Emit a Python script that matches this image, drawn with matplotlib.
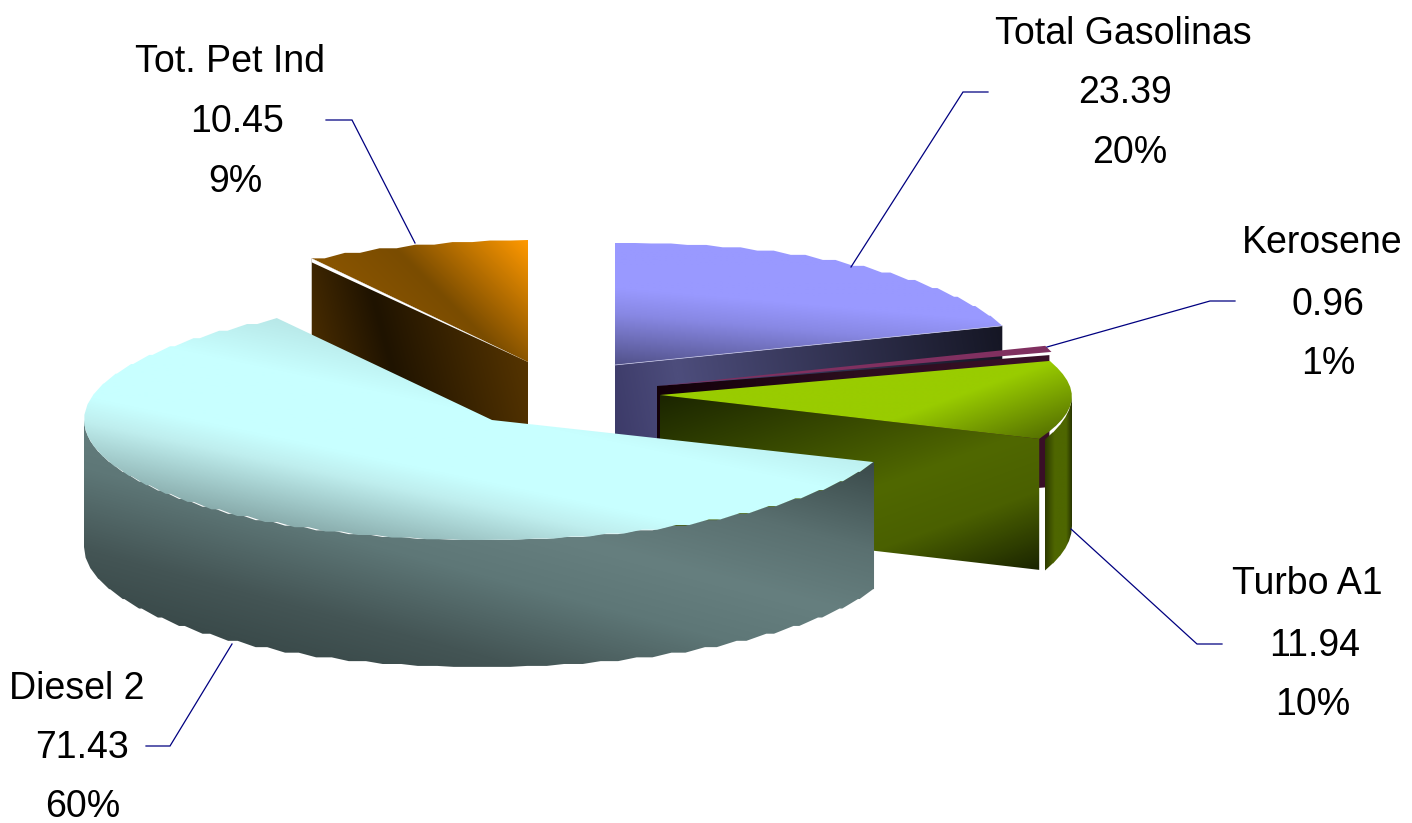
import numpy as np
import matplotlib
matplotlib.use("Agg")
import matplotlib.pyplot as plt
from matplotlib.colors import LinearSegmentedColormap
from matplotlib.patches import PathPatch, Polygon
from matplotlib.path import Path

categories = ["Total Gasolinas", "Kerosene", "Turbo A1", "Diesel 2", "Tot. Pet Ind"]
values = [23.39, 0.96, 11.94, 71.43, 10.45]
value_labels = ["23.39", "0.96", "11.94", "71.43", "10.45"]
percent_labels = ["20%", "1%", "10%", "60%", "9%"]

# angles clockwise from 12 o'clock, taken from the values
fractions = np.array(values) / sum(values)
ends = np.cumsum(fractions) * 360
starts = ends - fractions * 360

fig = plt.figure(figsize=(14.12, 8.23), dpi=100)
ax = fig.add_axes([0, 0, 1, 1])
ax.set_xlim(0, 1412)
ax.set_ylim(823, 0)
ax.axis("off")

FONT = ["Liberation Sans", "DejaVu Sans"]
NAVY = "#000080"


def rim(cx, cy, rx, ry, a0, a1, step=5.0, bulge=0):
    # stepped edge like the old 3D pie renderer, flat runs only where the rim is near level
    n = max(int(abs(a1 - a0) / step), 1)
    angs = np.linspace(a0, a1, n + 1)
    pts = []
    for i, a in enumerate(angs):
        t = np.radians(a)
        r = rx + bulge * np.sin(np.pi * i / n)
        pts.append((cx + r * np.sin(t), cy - ry * np.cos(t)))
        if i < n:
            hold = 0.55 * np.cos(t) ** 2
            t2 = np.radians(a + (a1 - a0) / n * hold)
            pts.append((cx + r * np.sin(t2), cy - ry * np.cos(t)))
    return pts


def grad_fill(poly, angle, stops, zorder=1):
    poly = np.array(poly)
    x0, y0 = poly.min(axis=0)
    x1, y1 = poly.max(axis=0)
    xs = np.arange(np.floor(x0) - 1, np.ceil(x1) + 2)
    ys = np.arange(np.floor(y0) - 1, np.ceil(y1) + 2)
    X, Y = np.meshgrid(xs, ys)
    a = np.radians(angle)
    P = X * np.cos(a) - Y * np.sin(a)
    pp = poly[:, 0] * np.cos(a) - poly[:, 1] * np.sin(a)
    T = np.clip((P - pp.min()) / (pp.max() - pp.min()), 0, 1)
    cmap = LinearSegmentedColormap.from_list("g", stops, N=256)
    im = ax.imshow(T, cmap=cmap, vmin=0, vmax=1, origin="upper", aspect="auto",
                   extent=(xs[0], xs[-1], ys[-1], ys[0]), zorder=zorder,
                   interpolation="bilinear")
    codes = [Path.MOVETO] + [Path.LINETO] * (len(poly) - 1) + [Path.CLOSEPOLY]
    path = Path(np.vstack([poly, poly[0]]), codes)
    im.set_clip_path(PathPatch(path, transform=ax.transData))


def shifted(pts, dy):
    return [(x, y + dy) for x, y in pts]


# --- Tot. Pet Ind (back left)
i = 4
cx, cy, rx, ry, depth = 528, 362, 410, 122, 128
top = rim(cx, cy, rx, ry, starts[i], 360)
wall = [(cx, cy), top[0], (top[0][0], top[0][1] + depth), (cx, cy + depth)]
grad_fill(wall, 15, [(0, "#4f3000"), (0.38, "#1f1300"), (1, "#553400")], 2)
grad_fill([(cx, cy)] + top, 45, [(0, "#8a5500"), (0.4, "#7a4c00"), (1, "#ff9900")], 3)
ax.add_patch(Polygon([(cx, cy), top[0], (top[0][0], top[0][1] + 4)], color="white", lw=0, zorder=3.5))

# --- Total Gasolinas
i = 0
cx, cy, rx, ry, depth = 615, 365, 409, 122, 130
top = rim(cx, cy, rx, ry, starts[i], ends[i])
wall = [(cx, cy), top[-1], (top[-1][0], top[-1][1] + depth), (cx, cy + depth)]
grad_fill(wall, 10, [(0, "#3a3866"), (0.2, "#4d4d7c"), (1, "#151624")], 4)
grad_fill([(cx, cy)] + top, 85, [(0, "#52528a"), (0.4, "#8888e4"), (0.6, "#9999ff"), (1, "#9999ff")], 5)
ax.plot([cx, top[-1][0]], [cy, top[-1][1]], color="#c8c8e8", lw=0.5, zorder=5.5)

# --- Kerosene (thin sliver)
i = 1
cx, cy, rx, ry, depth = 657, 386, 410, 125, 132
top = [rim(cx, cy, rx, ry, a, a)[0] for a in (starts[i], ends[i])]
wall_end = rim(cx, cy, 405, ry, ends[i] + 1.5, ends[i] + 1.5)[0]
wall = [(cx, cy), wall_end, (wall_end[0], wall_end[1] + depth), (cx, cy + depth)]
grad_fill(wall, 0, [(0, "#120008"), (0.5, "#2c0e1e"), (1, "#3a1028")], 6)
ax.add_patch(Polygon([(cx, cy)] + top, color="#803060", lw=0, zorder=7))

# --- Turbo A1
i = 2
cx, cy, rx, ry, depth = 660, 395, 405, 125, 131
top = rim(cx, cy, rx, ry, starts[i], ends[i], step=3.0, bulge=7)
end = top[-1]
wall = [(cx, cy), end, (end[0], end[1] + depth), (cx, cy + depth)]
grad_fill(wall, -70, [(0, "#1b2500"), (0.55, "#506800"), (0.75, "#4a6000"), (1, "#1b2500")], 8)
# outer skin stops short of the cut wall, which leaves the white slit
outer = rim(cx, cy, rx + 7, ry, 90, ends[i] + 0.3, step=3.0)
skin = outer + shifted(outer, depth)[::-1]
grad_fill(skin, 0, [(0, "#2e3c00"), (0.35, "#4e6600"), (0.8, "#4e6600"), (1, "#2a3700")], 7.5)
grad_fill([(cx, cy)] + top, -70, [(0, "#99cc00"), (0.6, "#99cc00"), (1, "#587400")], 9)

# --- Diesel 2 (front)
i = 3
cx, cy, rx, ry, depth = 492, 420, 408, 120, 127
top = rim(cx, cy, rx, ry, starts[i], ends[i])
outer = rim(cx, cy, rx, ry, starts[i], 270)
skin = outer + shifted(outer, depth)[::-1]
grad_fill(skin, 75, [(0, "#3a4a4a"), (0.15, "#445555"), (0.38, "#5e7777"), (0.55, "#667f7f"),
                     (0.75, "#5a7070"), (1, "#3a4a4a")], 10)
grad_fill([(cx, cy)] + top, 78, [(0, "#88abab"), (0.3, "#bfeeee"), (0.42, "#c8ffff"),
                                 (0.75, "#c8ffff"), (1, "#b8e8e8")], 11)

# --- leader lines
leaders = [
    ([988, 963, 851], [92, 92, 267]),
    ([1235, 1210, 1047], [301, 301, 347]),
    ([1222, 1197, 1071], [644, 644, 529]),
    ([146, 170, 232], [746, 746, 644]),
    ([326, 352, 415], [120, 120, 243]),
]
for lx, ly in leaders:
    ax.plot(lx, ly, color=NAVY, lw=0.9, zorder=12, solid_joinstyle="miter")

# --- labels: name / value / percent, one text per line
label_x = [(1123, 1125, 1130), (1322, 1328, 1328), (1307, 1315, 1313), (77, 82, 83), (230, 237, 235)]
label_y = [(34, 93, 153), (243, 305, 364), (584, 646, 705), (689, 748, 807), (62, 122, 182)]
for k in range(len(categories)):
    lines = (categories[k], value_labels[k], percent_labels[k])
    for s, x, y in zip(lines, label_x[k], label_y[k]):
        ax.text(x, y, s, ha="center", va="center", fontsize=27, color="black",
                family=FONT, zorder=13)

ax.set_xlim(0, 1412)
ax.set_ylim(823, 0)
fig.savefig("out.png", dpi=100, facecolor="white")
